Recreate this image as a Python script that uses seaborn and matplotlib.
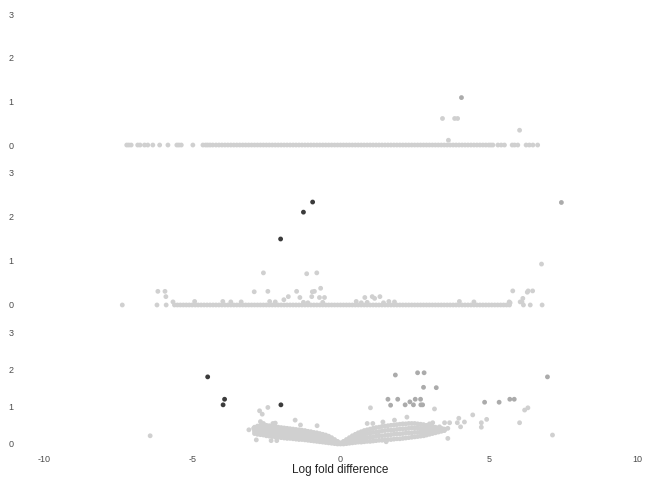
import pandas as pd
import seaborn as sns
import matplotlib.pyplot as plt

sns.set_style("white")
plt.rcParams['font.family'] = ['Liberation Sans', 'DejaVu Sans']
plt.rcParams['axes.unicode_minus'] = False

levels = ["ns", "mid", "sig"]
level_colors = {"ns": "#d0d0d0", "mid": "#ababab", "sig": "#3b3b3b"}
x_ticks = [-10, -5, 0, 5, 10]
y_ticks = [0, 1, 2, 3]
x_title = "Log fold difference"

# ---- panel 1 (top) ----
top_band_x = [-7.21, -7.14, -7.06, -6.84, -6.76, -6.61, -6.5, -6.33, -6.1, -5.82,
              -5.52, -5.45, -5.37, -4.98, -4.64, -4.55, -4.48, -4.4, -4.31, -4.2,
              -4.1, -4.0, -3.9, -3.8, -3.7, -3.6, -3.5, -3.4, -3.3, -3.2, -3.1, -3.0,
              -2.9, -2.8, -2.7, -2.6, -2.5, -2.4, -2.3, -2.2, -2.1, -2.0, -1.9, -1.8,
              -1.7, -1.6, -1.5, -1.4, -1.3, -1.2, -1.1, -1.0, -0.9, -0.8, -0.7, -0.6,
              -0.5, -0.4, -0.3, -0.2, -0.1, 0.0, 0.1, 0.2, 0.3, 0.4, 0.5, 0.6, 0.7,
              0.8, 0.9, 1.0, 1.1, 1.2, 1.3, 1.4, 1.5, 1.6, 1.7, 1.8, 1.9, 2.0, 2.1,
              2.2, 2.3, 2.4, 2.5, 2.6, 2.7, 2.8, 2.9, 3.0, 3.1, 3.2, 3.3, 3.4, 3.5,
              3.6, 3.7, 3.8, 3.9, 4.0, 4.1, 4.2, 4.3, 4.4, 4.5, 4.6, 4.7, 4.8, 4.9,
              5.0, 5.07, 5.14, 5.31, 5.42, 5.53, 5.79, 5.87, 5.98, 6.26, 6.37, 6.49,
              6.65]
top_out_x = [3.44, 3.85, 3.95, 3.64, 6.04]
top_out_y = [0.61, 0.61, 0.61, 0.11, 0.34]
top_mid_x = [4.08]
top_mid_y = [1.09]

# ---- panel 2 (middle) ----
mid_band_x = [-5.6, -5.5, -5.4, -5.3, -5.2, -5.1, -5.0, -4.9, -4.8, -4.7, -4.6,
              -4.5, -4.4, -4.3, -4.2, -4.1, -4.0, -3.9, -3.8, -3.7, -3.6, -3.5,
              -3.4, -3.3, -3.2, -3.1, -3.0, -2.9, -2.8, -2.7, -2.6, -2.5, -2.4,
              -2.3, -2.2, -2.1, -2.0, -1.9, -1.8, -1.7, -1.6, -1.5, -1.4, -1.3,
              -1.2, -1.1, -1.0, -0.9, -0.8, -0.7, -0.6, -0.5, -0.4, -0.3, -0.2,
              -0.1, 0.0, 0.1, 0.2, 0.3, 0.4, 0.5, 0.6, 0.7, 0.8, 0.9, 1.0, 1.1,
              1.2, 1.3, 1.4, 1.5, 1.6, 1.7, 1.8, 1.9, 2.0, 2.1, 2.2, 2.3, 2.4, 2.5,
              2.6, 2.7, 2.8, 2.9, 3.0, 3.1, 3.2, 3.3, 3.4, 3.5, 3.6, 3.7, 3.8, 3.9,
              4.0, 4.1, 4.2, 4.3, 4.4, 4.5, 4.6, 4.7, 4.8, 4.9, 5.0, 5.1, 5.2, 5.3,
              5.4, 5.5, 5.6, 5.7]
mid_out_x = [-7.36, -6.19, -5.88, -5.65, -6.16, -5.92, -5.89, -4.92, -3.97, -3.7,
             -3.35, -2.91, -2.45, -2.39, -2.2, -1.91, -1.76, -1.48, -1.37, -1.25,
             -1.1, -0.97, -0.95, -0.88, -0.71, -0.67, -0.6, -0.54, -2.6, -1.14,
             -0.8, 0.53, 0.7, 0.82, 0.9, 1.07, 1.15, 1.33, 1.45, 1.63, 1.82, 4.01,
             4.5, 5.69, 5.72, 5.81, 6.06, 6.12, 6.15, 6.17, 6.3, 6.33, 6.48, 6.4,
             6.8, 6.78]
mid_out_y = [0.0, 0.0, 0.0, 0.07, 0.31, 0.31, 0.19, 0.08, 0.08, 0.07,
             0.07, 0.3, 0.31, 0.08, 0.07, 0.12, 0.19, 0.31, 0.17, 0.06,
             0.05, 0.19, 0.3, 0.31, 0.17, 0.38, 0.06, 0.17, 0.73, 0.71,
             0.73, 0.08, 0.05, 0.17, 0.06, 0.19, 0.15, 0.19, 0.05, 0.08, 0.07, 0.08,
             0.07, 0.07, 0.05, 0.32, 0.07, 0.07, 0.15, 0.0, 0.29, 0.32, 0.32, 0.0,
             0.0, 0.93]
mid_mid_x = [7.45]
mid_mid_y = [2.33]
mid_sig_x = [-0.94, -1.25, -2.02]
mid_sig_y = [2.34, 2.11, 1.5]

# ---- panel 3 (bottom) ----
cloud_x = [-2.9, -2.8, -2.7, -2.6, -2.5, -2.4, -2.3, -2.2, -2.1, -2.0, -1.9, -1.8,
           -1.7, -1.6, -1.5, -1.4, -1.3, -1.2, -1.1, -1.0, -0.9, -0.8, -0.7, -0.6,
           -0.5, -0.4, -0.3, -0.2, -0.1, 0.0, 0.1, 0.2, 0.3, 0.4, 0.5, 0.6, 0.7,
           0.8, 0.9, 1.0, 1.1, 1.2, 1.3, 1.4, 1.5, 1.6, 1.7, 1.8, 1.9, 2.0, 2.1,
           2.2, 2.3, 2.4, 2.5, 2.6, 2.7, 2.8, 2.9, 3.0, 3.1, 3.2, 3.3, 3.4, 3.5]
cloud_y1 = [.28, .26, .25, .24, .22, .21, .20, .19, .18, .17, .16, .15, .15, .14,
            .13, .12, .12, .11, .10, .09, .08, .07, .06, .05, .04, .03, .02, .01,
            .00, .00, .00, .01, .02, .03, .04, .05, .05, .06, .07, .07, .08, .09,
            .10, .10, .11, .12, .12, .13, .14, .14, .15, .16, .17, .18, .19, .20,
            .21, .22, .24, .26, .28, .30, .32, .34, .36]
cloud_y2 = [.34, .33, .33, .33, .31, .30, .29, .28, .27, .26, .25, .24, .24, .23,
            .22, .21, .20, .19, .18, .17, .16, .15, .13, .12, .11, .09, .07, .05,
            .02, .01, .02, .05, .07, .09, .11, .13, .14, .16, .17, .18, .19, .21,
            .22, .22, .23, .24, .25, .26, .27, .27, .28, .29, .30, .30, .31, .31,
            .32, .32, .33, .34, .34, .35, .36, .37, .37]
cloud_y3 = [.39, .41, .42, .41, .41, .40, .39, .37, .36, .35, .34, .33, .32, .31,
            .30, .29, .29, .28, .26, .25, .23, .22, .21, .19, .17, .15, .12, .08,
            .05, .02, .05, .08, .12, .16, .19, .22, .24, .26, .28, .29, .31, .32,
            .33, .35, .36, .37, .37, .38, .39, .40, .41, .41, .42, .43, .43, .43,
            .42, .42, .41, .41, .41, .40, .39, .39, .39]
cloud_y4 = [.45, .48, .50, .50, .50, .49, .48, .46, .45, .44, .43, .42, .41, .40,
            .39, .38, .37, .36, .34, .33, .31, .30, .28, .26, .24, .21, .17, .12,
            .07, .03, .07, .12, .17, .22, .26, .30, .33, .36, .38, .40, .42, .44,
            .45, .47, .48, .49, .50, .51, .52, .53, .54, .54, .55, .55, .55, .54,
            .53, .52, .50, .49, .47, .45, .43, .42, .40]
bot_out_x = [-6.42, -2.73, -2.64, -2.45, -2.7, -2.6, -2.84, -2.34, -2.15, -2.51,
             -3.09, -2.93, -2.74, -1.53, -1.35, -0.79, -2.28, -2.2, 1.01, 3.17,
             4.46, 6.21, 6.32, 6.04, 4.93, 4.75, 4.75, 3.99, 4.18, 3.94, 4.05,
             3.62, 2.24, 1.82, 1.43, 1.09, 0.9, 3.0, 3.11, 3.51, 3.68, 3.34, 3.45,
             3.62, 1.54, 2.83, 7.15]
bot_out_y = [0.22, 0.89, 0.8, 0.98, 0.6, 0.55, 0.11, 0.09, 0.09, 0.29,
             0.38, 0.42, 0.42, 0.64, 0.51, 0.49, 0.55, 0.56, 0.97, 0.94,
             0.78, 0.91, 0.97, 0.57, 0.66, 0.57, 0.45, 0.69, 0.59, 0.57, 0.46,
             0.15, 0.72, 0.64, 0.59, 0.55, 0.55, 0.54, 0.57, 0.57, 0.57, 0.46, 0.4,
             0.42, 0.06, 0.24, 0.24]
bot_mid_x = [1.85, 2.6, 2.82, 2.8, 3.23, 1.6, 1.93, 2.34, 2.52, 2.7, 1.69, 2.18,
             2.46, 2.71, 2.77, 4.86, 5.35, 5.71, 5.86, 6.98]
bot_mid_y = [1.85, 1.91, 1.91, 1.52, 1.51, 1.2, 1.2, 1.13, 1.2, 1.2, 1.04, 1.05,
             1.05, 1.05, 1.05, 1.12, 1.12, 1.2, 1.2, 1.8]
bot_sig_x = [-4.48, -3.91, -3.96, -2.01]
bot_sig_y = [1.8, 1.2, 1.05, 1.05]


def frame(parts):
    rows = []
    for xs, ys, lev in parts:
        rows.append(pd.DataFrame({"lfc": xs, "score": ys, "level": lev}))
    return pd.concat(rows, ignore_index=True)


top_df = frame([(top_band_x, [0.0] * len(top_band_x), "ns"),
                (top_out_x, top_out_y, "ns"),
                (top_mid_x, top_mid_y, "mid")])
mid_df = frame([(mid_band_x, [0.0] * len(mid_band_x), "ns"),
                (mid_out_x, mid_out_y, "ns"),
                (mid_mid_x, mid_mid_y, "mid"),
                (mid_sig_x, mid_sig_y, "sig")])
bot_df = frame([(cloud_x, cloud_y1, "ns"), (cloud_x, cloud_y2, "ns"),
                (cloud_x, cloud_y3, "ns"), (cloud_x, cloud_y4, "ns"),
                (bot_out_x, bot_out_y, "ns"),
                (bot_mid_x, bot_mid_y, "mid"),
                (bot_sig_x, bot_sig_y, "sig")])

fig = plt.figure(figsize=(6.72, 4.8), dpi=100)
boxes = [[0.0655, 0.6752, 0.8824, 0.3173],
         [0.0655, 0.3417, 0.8824, 0.3208],
         [0.0655, 0.0556, 0.8824, 0.2719]]

for i, (df, box) in enumerate(zip([top_df, mid_df, bot_df], boxes)):
    ax = fig.add_axes(box)
    sns.scatterplot(data=df, x="lfc", y="score", hue="level", hue_order=levels,
                    palette=level_colors, s=12, linewidth=0, legend=False, ax=ax)
    ax.set_xlim(-10, 10)
    ax.set_ylim(-0.25, 3.25)
    ax.set_yticks(y_ticks)
    ax.set_ylabel("")
    sns.despine(ax=ax, left=True, bottom=True)
    ax.tick_params(axis="y", length=0, pad=22, labelsize=6.5, labelcolor="#4d4d4d")
    if i < 2:
        ax.set_xticks([])
        ax.set_xlabel("")
    else:
        ax.set_xticks(x_ticks)
        ax.tick_params(axis="x", length=0, pad=1.5, labelsize=6.5, labelcolor="#4d4d4d")
        ax.set_xlabel(x_title, fontsize=8.5, color="#222222", labelpad=0)

fig.savefig("out.png", dpi=100)
